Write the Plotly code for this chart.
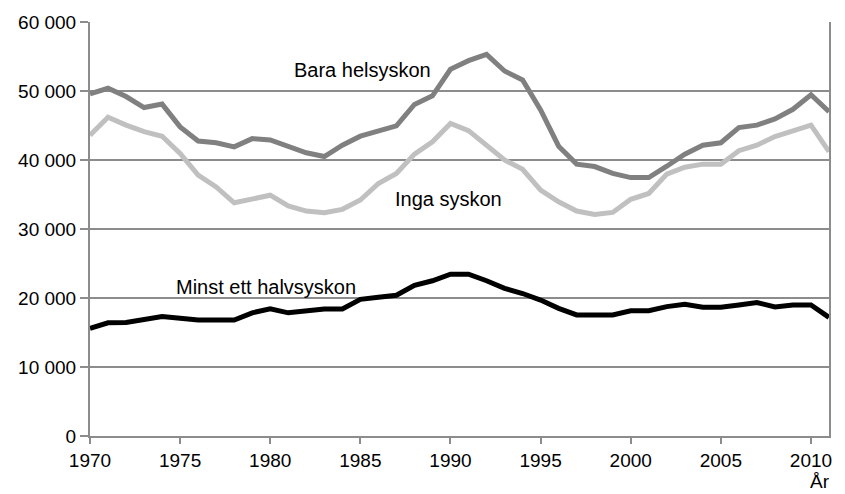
import plotly.graph_objects as go

years = list(range(1970, 2012))

bara_helsyskon = [49600, 50400, 49200, 47600, 48100, 44800, 42750, 42500, 41900, 43100,
                  42900, 41900, 41050, 40500, 42150, 43450, 44200, 44950, 48050, 49300,
                  53150, 54400, 55300, 52900, 51600, 47250, 42000, 39400, 39050, 38050,
                  37450, 37450, 39100, 40850, 42150, 42500, 44700, 45050, 45950, 47350,
                  49450, 47000]

inga_syskon = [43600, 46200, 45050, 44100, 43450, 40950, 37800, 36100, 33800, 34300,
               34900, 33350, 32600, 32350, 32850, 34200, 36600, 38050, 40850, 42650,
               45300, 44250, 42150, 40000, 38650, 35650, 33950, 32600, 32100, 32400,
               34300, 35150, 37950, 38950, 39400, 39400, 41350, 42150, 43400, 44250,
               45050, 41200]

minst_ett_halvsyskon = [15600, 16400, 16450, 16800, 17300, 17050, 16800, 16800, 16800, 17850,
                        18450, 17850, 18150, 18400, 18400, 19800, 20100, 20400, 21850, 22500,
                        23450, 23450, 22500, 21400, 20650, 19700, 18500, 17550, 17550, 17550,
                        18150, 18150, 18750, 19100, 18650, 18650, 19000, 19350, 18700, 19000,
                        19000, 17200]

x_ticks = [1970, 1975, 1980, 1985, 1990, 1995, 2000, 2005, 2010]
y_ticks = [0, 10000, 20000, 30000, 40000, 50000, 60000]

series_names = ["Bara helsyskon", "Inga syskon", "Minst ett halvsyskon"]
series_vals = [bara_helsyskon, inga_syskon, minst_ett_halvsyskon]
series_colors = ["#808080", "#c0c0c0", "#000000"]

label_pos = {
    "Bara helsyskon": (1985.1, 53000),
    "Inga syskon": (1989.9, 34350),
    "Minst ett halvsyskon": (1979.75, 21600),
}

fig = go.Figure()
for name, vals, col in zip(series_names, series_vals, series_colors):
    fig.add_trace(go.Scatter(x=years, y=vals, mode="lines", name=name,
                             line=dict(color=col, width=5), showlegend=False))

for name in series_names:
    lx, ly = label_pos[name]
    fig.add_annotation(x=lx, y=ly, text=name, showarrow=False,
                       font=dict(size=20, color="#000000"))

fig.add_annotation(xref="paper", yref="paper", x=0.988, y=-0.111, text="År",
                   showarrow=False, xanchor="center", yanchor="middle",
                   font=dict(size=19, color="#000000"))

grid_col = "#8c8c8c"
fig.update_layout(
    width=837, height=486,
    margin=dict(l=82, r=16, t=14, b=58, autoexpand=False),
    paper_bgcolor="white", plot_bgcolor="white",
    separators=". ",
    font=dict(family="Liberation Sans, Arial, sans-serif", size=19, color="#000000"),
    xaxis=dict(range=[1970, 2011], tickvals=x_ticks, showgrid=False,
               showline=True, linecolor=grid_col, linewidth=2,
               ticks="outside", ticklen=6, tickcolor=grid_col, tickwidth=1.5,
               zeroline=False, tickfont=dict(size=19), automargin=False),
    yaxis=dict(range=[0, 60000], tickvals=y_ticks, tickformat=",d",
               showgrid=True, gridcolor=grid_col, gridwidth=1.5,
               showline=True, linecolor=grid_col, linewidth=2, mirror=True,
               ticks="outside", ticklen=8, tickcolor=grid_col, tickwidth=1.5,
               zeroline=False, tickfont=dict(size=19), automargin=False),
)

fig.write_html("out.html")
